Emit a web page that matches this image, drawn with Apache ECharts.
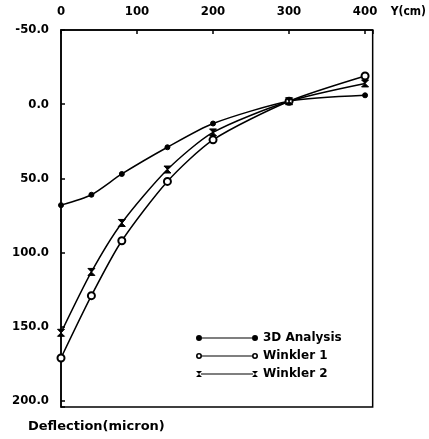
<!DOCTYPE html>
<html>
<head>
<meta charset="utf-8">
<script src="https://cdn.jsdelivr.net/npm/echarts@6/dist/echarts.min.js"></script>
<style>
html,body{margin:0;padding:0;background:#fff;}
#chart{width:429px;height:439px;}
</style>
</head>
<body>
<div id="chart"></div>
<script>
// Data
var yPositions = [0, 40, 80, 140, 200, 300, 400];          // Y (cm)
var analysis3D = [68, 61, 47, 29, 13, -2, -6];             // 3D Analysis deflection (micron)
var winkler1   = [171, 129, 92, 52, 24, -2, -19];          // Winkler 1
var winkler2   = [154, 113, 80, 44, 19, -2, -14];          // Winkler 2
var seriesNames = ['3D Analysis', 'Winkler 1', 'Winkler 2'];
var xTickLabels = [0, 100, 200, 300, 400];
var yTickLabels = [-50, 0, 50, 100, 150, 200];

function pairs(xs, ys) { return xs.map(function (x, i) { return [x, ys[i]]; }); }

var FONT = '"DejaVu Sans Condensed", "DejaVu Sans", sans-serif';
var WIDE = '"DejaVu Sans", sans-serif';
var hourglass = 'path://M0,0 L10,0 L5,5 L10,10 L0,10 L5,5 Z';

var iconDot = 'path://M0,3 A3,3 0 1,1 6,3 A3,3 0 1,1 0,3 Z M6,2.5 L56,2.5 L56,3.5 L6,3.5 Z M56,3 A3,3 0 1,1 62,3 A3,3 0 1,1 56,3 Z';
var iconRing = 'path://M0,3 A3,3 0 1,1 6,3 A3,3 0 1,1 0,3 Z M1.6,3 A1.4,1.4 0 1,0 4.4,3 A1.4,1.4 0 1,0 1.6,3 Z M6,2.5 L56,2.5 L56,3.5 L6,3.5 Z M56,3 A3,3 0 1,1 62,3 A3,3 0 1,1 56,3 Z M57.6,3 A1.4,1.4 0 1,0 60.4,3 A1.4,1.4 0 1,0 57.6,3 Z';
var iconHour = 'path://M0,0 L6,0 L3,3 L6,6 L0,6 L3,3 Z M5,2.5 L57,2.5 L57,3.5 L5,3.5 Z M56,0 L62,0 L59,3 L62,6 L56,6 L59,3 Z';
var legendItemStyle = { color: '#000', borderWidth: 0, opacity: 1 };

var chart = echarts.init(document.getElementById('chart'));
chart.setOption({
  backgroundColor: '#fff',
  animation: false,
  title: [{
    text: 'Deflection(micron)',
    left: 28, top: 420, padding: 0,
    textStyle: { fontFamily: WIDE, fontWeight: 'bold', fontSize: 13, color: '#000' }
  }],
  grid: {
    left: 61, right: 56, top: 30, bottom: 32,
    show: true, borderColor: '#000', borderWidth: 1.5, backgroundColor: 'transparent'
  },
  legend: {
    orient: 'vertical',
    left: 196, top: 332, padding: 0,
    itemWidth: 62, itemHeight: 6, itemGap: 6,
    itemStyle: legendItemStyle,
    data: [
      { name: seriesNames[0], icon: iconDot, itemStyle: legendItemStyle },
      { name: seriesNames[1], icon: iconRing, itemStyle: legendItemStyle },
      { name: seriesNames[2], icon: iconHour, itemStyle: legendItemStyle }
    ],
    textStyle: { fontFamily: WIDE, fontWeight: 'bold', fontSize: 12, color: '#000', lineHeight: 12 }
  },
  xAxis: {
    type: 'value', position: 'top',
    min: 0, max: 410, interval: 100,
    name: 'Y(cm)', nameLocation: 'end', nameGap: 18,
    nameTextStyle: { fontFamily: FONT, fontWeight: 'bold', fontSize: 12, color: '#000', verticalAlign: 'bottom', padding: [0, 0, 12, 0] },
    axisLine: { show: true, onZero: false, lineStyle: { color: '#000', width: 1.5 } },
    axisTick: { show: true, inside: true, length: 4, lineStyle: { color: '#000', width: 1.5 } },
    axisLabel: {
      margin: 12, color: '#000', fontFamily: FONT, fontWeight: 'bold', fontSize: 13,
      formatter: function (v) { return xTickLabels.indexOf(v) >= 0 ? String(v) : ''; }
    },
    splitLine: { show: false }
  },
  yAxis: {
    type: 'value', inverse: true,
    min: -50, max: 204, interval: 50,
    axisLine: { show: true, onZero: false, lineStyle: { color: '#000', width: 1.5 } },
    axisTick: { show: true, inside: true, length: 4, lineStyle: { color: '#000', width: 1.5 } },
    axisLabel: {
      margin: 12, color: '#000', fontFamily: FONT, fontWeight: 'bold', fontSize: 13,
      formatter: function (v) { return yTickLabels.indexOf(v) >= 0 ? v.toFixed(1) : ''; }
    },
    splitLine: { show: false }
  },
  series: [
    {
      name: seriesNames[0], type: 'line', data: pairs(yPositions, analysis3D),
      smooth: 0.25, symbol: 'circle', symbolSize: 5,
      lineStyle: { color: '#000', width: 1.5 },
      itemStyle: { color: '#000', borderColor: '#000' }
    },
    {
      name: seriesNames[1], type: 'line', data: pairs(yPositions, winkler1),
      smooth: 0.25, symbol: 'emptyCircle', symbolSize: 7,
      lineStyle: { color: '#000', width: 1.5 },
      itemStyle: { color: '#000', borderColor: '#000', borderWidth: 1.5 }
    },
    {
      name: seriesNames[2], type: 'line', data: pairs(yPositions, winkler2),
      smooth: 0.25, symbol: hourglass, symbolSize: 7,
      lineStyle: { color: '#000', width: 1.5 },
      itemStyle: { color: '#000', borderColor: '#000' }
    }
  ]
});
</script>
</body>
</html>
